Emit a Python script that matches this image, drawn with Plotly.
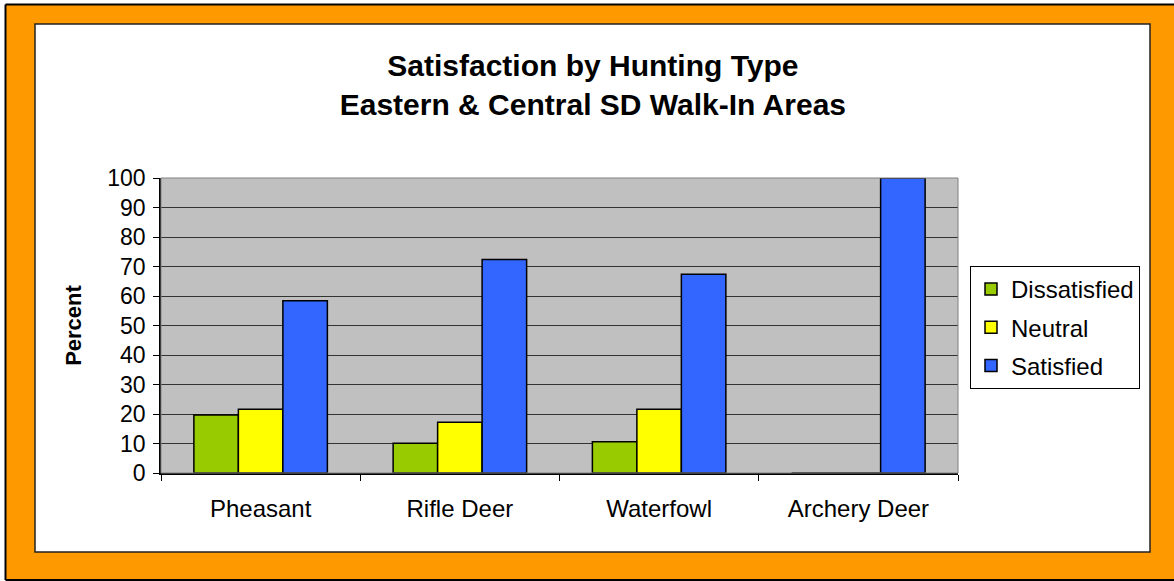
import plotly.graph_objects as go

categories = ["Pheasant", "Rifle Deer", "Waterfowl", "Archery Deer"]
dissatisfied = [19.7, 10.1, 10.6, 0]
neutral = [21.6, 17.2, 21.6, 0]
satisfied = [58.4, 72.4, 67.4, 100]
series_names = ["Dissatisfied", "Neutral", "Satisfied"]
colors = ["#99CC00", "#FFFF00", "#3366FF"]

W, H = 1174, 581
L, R, T, B = 161, 958, 178, 473
FONT = "Arial, Liberation Sans, sans-serif"

fig = go.Figure()
for name, vals, c in zip(series_names, [dissatisfied, neutral, satisfied], colors):
    fig.add_trace(go.Bar(x=categories, y=vals, name=name, legendgroup=name,
                         marker=dict(color=c, line=dict(color="black", width=1.5))))

def px(x):
    return (x - L) / (R - L)

def py(y):
    return (B - y) / (B - T)

shapes = []
# plot area outline (gray)
shapes.append(dict(type="rect", xref="paper", yref="paper", x0=0, x1=1, y0=0, y1=1,
                   line=dict(color="#808080", width=1), layer="above"))
# orange frame pieces
orange = "#FF9900"
for (x0, y0, x1, y1) in [(6, 5, 1174, 24), (6, 552, 1174, 579), (6, 5, 35, 579), (1150, 5, 1174, 579)]:
    shapes.append(dict(type="rect", xref="paper", yref="paper", x0=px(x0), x1=px(x1),
                       y0=py(y1), y1=py(y0), fillcolor=orange, line=dict(width=0), layer="above"))
# inner border
shapes.append(dict(type="rect", xref="paper", yref="paper", x0=px(35), x1=px(1150),
                   y0=py(552), y1=py(24), line=dict(color="#222222", width=1.5), layer="above"))
# outer border (left, top, bottom)
shapes.append(dict(type="line", xref="paper", yref="paper", x0=px(5.5), x1=px(5.5),
                   y0=py(580), y1=py(4.5), line=dict(color="black", width=2), layer="above"))
shapes.append(dict(type="line", xref="paper", yref="paper", x0=px(5.5), x1=px(1174),
                   y0=py(4.5), y1=py(4.5), line=dict(color="black", width=2), layer="above"))
shapes.append(dict(type="line", xref="paper", yref="paper", x0=px(5.5), x1=px(1174),
                   y0=py(580), y1=py(580), line=dict(color="black", width=2), layer="above"))

fig.update_layout(
    width=W, height=H,
    margin=dict(l=L, r=W - R, t=T, b=H - B, pad=0),
    paper_bgcolor="white",
    plot_bgcolor="#C0C0C0",
    barmode="group",
    bargap=0.33,
    bargroupgap=0,
    font=dict(family=FONT, size=24, color="black"),
    title=dict(text="<b>Satisfaction by Hunting Type<br>Eastern & Central SD Walk-In Areas</b>",
               x=0.505, xanchor="center", y=1 - 76 / H, yanchor="top",
               font=dict(family=FONT, size=30, color="black")),
    legend=dict(x=px(970), y=py(266), xanchor="left", yanchor="top",
                bordercolor="black", borderwidth=1, bgcolor="white",
                font=dict(family=FONT, size=24), traceorder="grouped",
                tracegroupgap=4, itemwidth=30),
    shapes=shapes,
    showlegend=True,
)
fig.update_xaxes(showline=True, linecolor="black", linewidth=1.5, ticks="outside",
                 ticklen=6, tickcolor="black", tickson="boundaries",
                 ticklabelstandoff=13, showgrid=False, fixedrange=True,
                 tickfont=dict(size=24))
fig.update_yaxes(range=[0, 100], dtick=10, showline=True, linecolor="black", linewidth=1.5,
                 ticks="outside", ticklen=6, tickcolor="black", ticklabelstandoff=3,
                 tickfont=dict(size=23),
                 showgrid=True, gridcolor="#333333", gridwidth=1, zeroline=False,
                 title=dict(text="<b>Percent</b>", font=dict(family=FONT, size=22), standoff=20),
                 fixedrange=True)

fig.write_html("out.html", config={"displayModeBar": False},
               post_script="document.body.style.margin='0';document.body.style.padding='0';")
